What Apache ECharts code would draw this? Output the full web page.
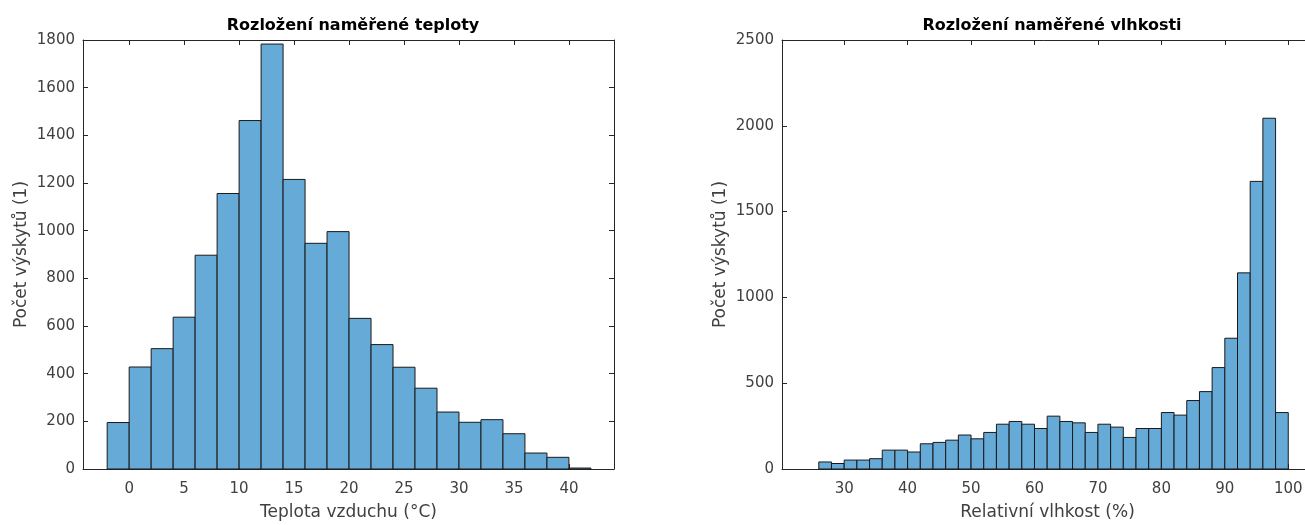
<!DOCTYPE html>
<html>
<head>
<meta charset="utf-8">
<title>Rozložení naměřené teploty a vlhkosti</title>
<script src="https://cdn.jsdelivr.net/npm/echarts@6/dist/echarts.min.js"></script>
<style>
  html, body { margin: 0; padding: 0; background: #fff; }
  #chart { width: 1305px; height: 525px; }
</style>
</head>
<body>
<div id="chart"></div>
<script>
// teplota - hranice binu a pocty
const tempEdges = [-2, 0, 2, 4, 6, 8, 10, 12, 14, 16, 18, 20, 22, 24, 26, 28, 30, 32, 34, 36, 38, 40, 42];
const tempCounts = [195, 428, 505, 637, 897, 1156, 1462, 1783, 1215, 947, 996, 632, 522, 427, 339, 239, 196, 207, 148, 67, 49, 4];
const tempTicks = [0, 5, 10, 15, 20, 25, 30, 35, 40];
const tempYTicks = [0, 200, 400, 600, 800, 1000, 1200, 1400, 1600, 1800];

// vlhkost
const humEdges = [26, 28, 30, 32, 34, 36, 38, 40, 42, 44, 46, 48, 50, 52, 54, 56, 58, 60, 62, 64, 66, 68, 70,
  72, 74, 76, 78, 80, 82, 84, 86, 88, 90, 92, 94, 96, 98, 100];
const humCounts = [41, 32, 52, 52, 60, 110, 110, 99, 147, 155, 168, 198, 176, 213, 261, 277, 261, 236, 308, 277,
  269, 213, 261, 244, 184, 236, 236, 329, 314, 399, 451, 591, 762, 1143, 1676, 2044, 329];
const humTicks = [30, 40, 50, 60, 70, 80, 90, 100];
const humYTicks = [0, 500, 1000, 1500, 2000, 2500];

const FONT = 'DejaVu Sans';
const AXIS_COLOR = '#262626';
const TEXT_COLOR = '#404040';
const BAR_COLOR = '#66aad7';

function histData(edges, counts) {
  return counts.map((c, i) => [edges[i], edges[i + 1], c]);
}

function renderBin(params, api) {
  const p0 = api.coord([api.value(0), api.value(2)]);
  const p1 = api.coord([api.value(1), 0]);
  return {
    type: 'rect',
    shape: { x: p0[0], y: p0[1], width: p1[0] - p0[0], height: p1[1] - p0[1] },
    style: { fill: BAR_COLOR, stroke: '#1a1a1a', lineWidth: 1 }
  };
}

const plain = v => String(v);

function xAxes(gridIndex, min, max, ticks, name) {
  const line = { show: true, onZero: false, lineStyle: { color: AXIS_COLOR, width: 1 } };
  const tick = { show: true, inside: true, length: 5, customValues: ticks, lineStyle: { color: AXIS_COLOR } };
  return [
    {
      type: 'value', gridIndex: gridIndex, position: 'bottom', min: min, max: max,
      axisLine: line, axisTick: tick, splitLine: { show: false },
      axisLabel: { customValues: ticks, formatter: plain, margin: 13, color: TEXT_COLOR, fontFamily: FONT, fontSize: 15 },
      name: name, nameLocation: 'middle', nameGap: 35,
      nameTextStyle: { color: TEXT_COLOR, fontFamily: FONT, fontSize: 17 }
    },
    {
      type: 'value', gridIndex: gridIndex, position: 'top', min: min, max: max,
      axisLine: line, axisTick: tick, splitLine: { show: false }, axisLabel: { show: false }
    }
  ];
}

function yAxes(gridIndex, max, ticks, name) {
  const line = { show: true, onZero: false, lineStyle: { color: AXIS_COLOR, width: 1 } };
  const tick = { show: true, inside: true, length: 5, customValues: ticks, lineStyle: { color: AXIS_COLOR } };
  return [
    {
      type: 'value', gridIndex: gridIndex, position: 'left', min: 0, max: max,
      axisLine: line, axisTick: tick, splitLine: { show: false },
      axisLabel: { customValues: ticks, formatter: plain, margin: 8, color: TEXT_COLOR, fontFamily: FONT, fontSize: 15 },
      name: name, nameLocation: 'middle', nameGap: 53,
      nameTextStyle: { color: TEXT_COLOR, fontFamily: FONT, fontSize: 17 }
    },
    {
      type: 'value', gridIndex: gridIndex, position: 'right', min: 0, max: max,
      axisLine: line, axisTick: tick, splitLine: { show: false }, axisLabel: { show: false }
    }
  ];
}

const chart = echarts.init(document.getElementById('chart'));
chart.setOption({
  animation: false,
  backgroundColor: '#fff',
  title: [
    {
      text: 'Rozložení naměřené teploty', left: 348, top: 13, textAlign: 'center',
      textStyle: { color: '#000', fontFamily: FONT, fontSize: 16, fontWeight: 'bold' }
    },
    {
      text: 'Rozložení naměřené vlhkosti', left: 1047, top: 13, textAlign: 'center',
      textStyle: { color: '#000', fontFamily: FONT, fontSize: 16, fontWeight: 'bold' }
    }
  ],
  grid: [
    { left: 83, top: 40, width: 531, height: 429, outerBoundsMode: 'none' },
    { left: 782, top: 40, width: 531, height: 429, outerBoundsMode: 'none' }
  ],
  xAxis: [
    ...xAxes(0, -4.2, 44.1, tempTicks, 'Teplota vzduchu (°C)'),
    ...xAxes(1, 20.2, 103.9, humTicks, 'Relativní vlhkost (%)')
  ],
  yAxis: [
    ...yAxes(0, 1800, tempYTicks, 'Počet výskytů (1)'),
    ...yAxes(1, 2500, humYTicks, 'Počet výskytů (1)')
  ],
  series: [
    {
      type: 'custom', xAxisIndex: 0, yAxisIndex: 0,
      renderItem: renderBin, data: histData(tempEdges, tempCounts)
    },
    {
      type: 'custom', xAxisIndex: 2, yAxisIndex: 2,
      renderItem: renderBin, data: histData(humEdges, humCounts)
    }
  ]
});
</script>
</body>
</html>
